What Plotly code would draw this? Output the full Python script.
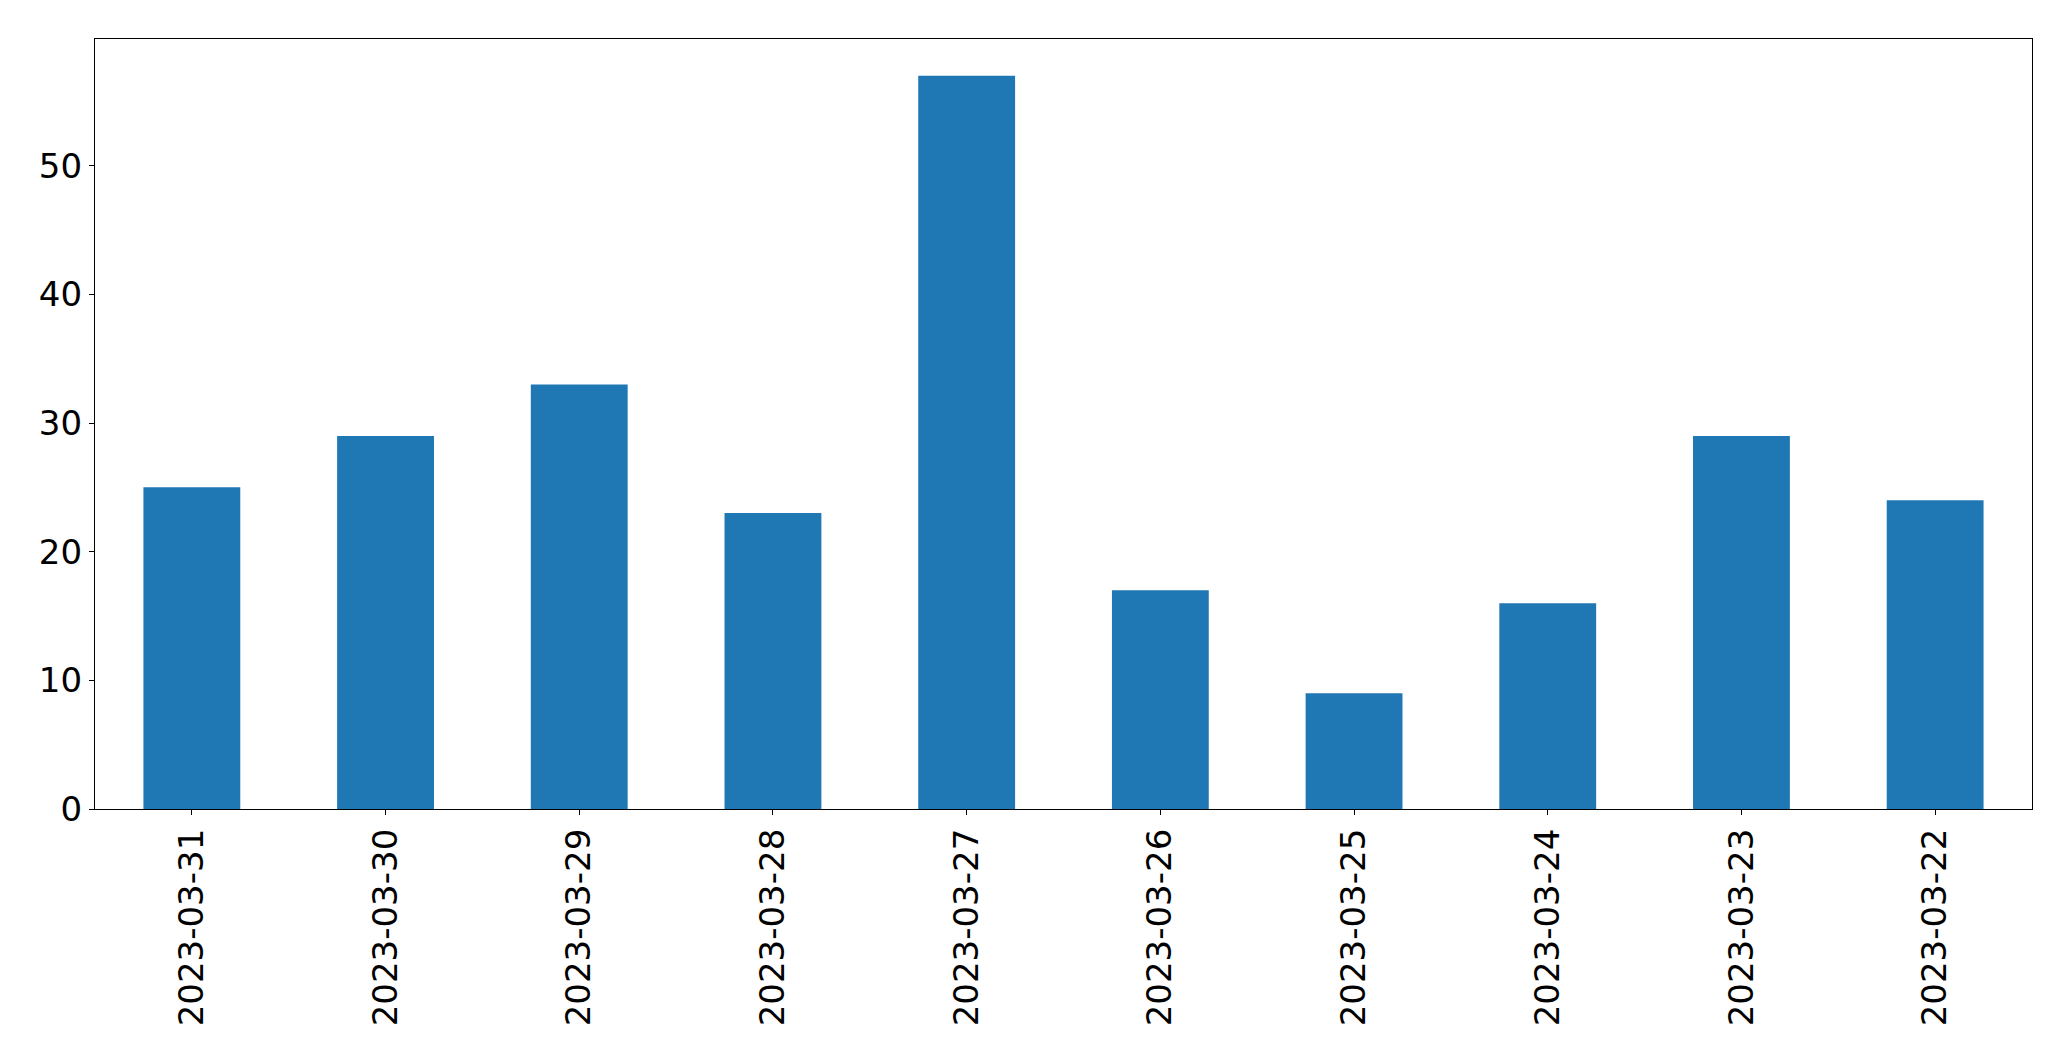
import plotly.graph_objects as go

dates = ["2023-03-31", "2023-03-30", "2023-03-29", "2023-03-28", "2023-03-27",
         "2023-03-26", "2023-03-25", "2023-03-24", "2023-03-23", "2023-03-22"]
counts = [25, 29, 33, 23, 57, 17, 9, 16, 29, 24]

fig = go.Figure(go.Bar(x=dates, y=counts, marker_color="#1f77b4", marker_line_width=0, width=0.5))

# page body has an 8px default margin; compensate
fig.update_layout(
    width=2063, height=1053,
    margin=dict(l=86.5, r=39.3, t=31.3, b=252),
    plot_bgcolor="white", paper_bgcolor="white",
    font=dict(family="DejaVu Sans", size=34, color="black"),
    showlegend=False,
)
fig.update_xaxes(type="category", range=[-0.5, 9.5], tickangle=-90, automargin=False,
                 showline=True, linecolor="black", linewidth=1.3, mirror=True,
                 ticks="outside", ticklen=5, tickwidth=1.3, tickcolor="black",
                 showgrid=False, zeroline=False)
fig.update_yaxes(range=[0, 59.85], tickvals=[0, 10, 20, 30, 40, 50], automargin=False,
                 showline=True, linecolor="black", linewidth=1.3, mirror=True,
                 ticks="outside", ticklen=5, tickwidth=1.3, tickcolor="black",
                 showgrid=False, zeroline=False)

fig.write_html("out.html")
